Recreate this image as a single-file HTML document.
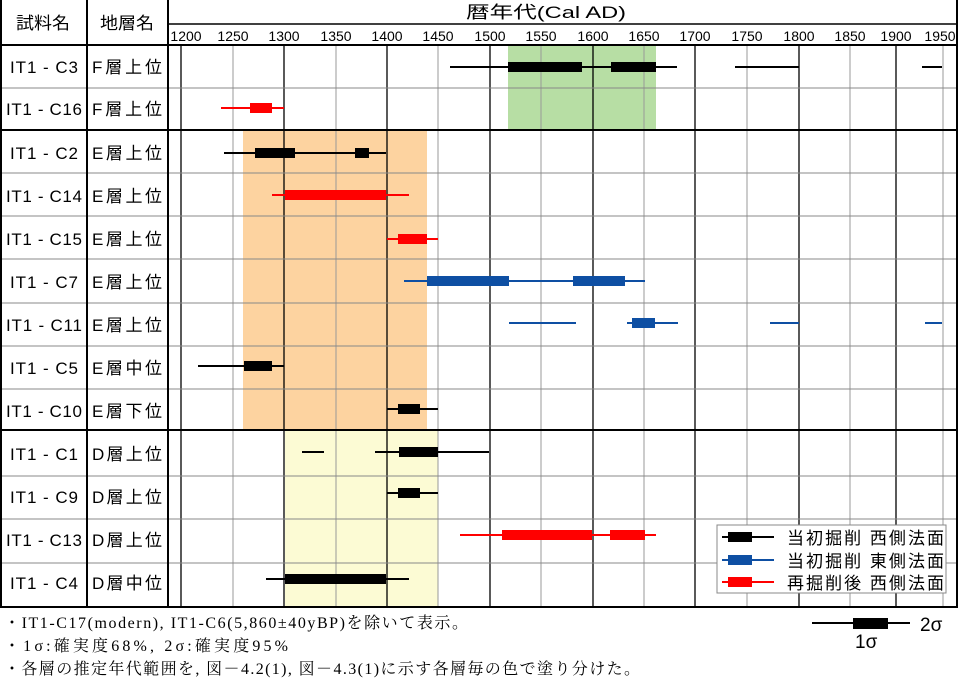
<!DOCTYPE html>
<html><head><meta charset="utf-8"><style>
html,body{margin:0;padding:0;background:#fff;}
svg{display:block;}
text{font-family:"Liberation Sans","Noto Sans CJK JP",sans-serif;fill:#000;}
</style></head><body>
<svg width="958" height="678" viewBox="0 0 958 678" xmlns="http://www.w3.org/2000/svg">
<rect x="508" y="45" width="148" height="85" fill="#b7dea4"/>
<rect x="243" y="130" width="184" height="300" fill="#fdd3a0"/>
<rect x="285" y="430" width="153" height="177" fill="#fcfbd4"/>
<g stroke="#999" stroke-width="1">
<line x1="233" y1="45" x2="233" y2="607"/>
<line x1="336" y1="45" x2="336" y2="607"/>
<line x1="438" y1="45" x2="438" y2="607"/>
<line x1="541" y1="45" x2="541" y2="607"/>
<line x1="644" y1="45" x2="644" y2="607"/>
<line x1="747" y1="45" x2="747" y2="607"/>
<line x1="850" y1="45" x2="850" y2="607"/>
<line x1="943" y1="45" x2="943" y2="607"/>
</g>
<g stroke="#000" stroke-width="1.3">
<line x1="181" y1="45" x2="181" y2="607"/>
<line x1="284" y1="45" x2="284" y2="607"/>
<line x1="387" y1="45" x2="387" y2="607"/>
<line x1="490" y1="45" x2="490" y2="607"/>
<line x1="593" y1="45" x2="593" y2="607"/>
<line x1="695" y1="45" x2="695" y2="607"/>
<line x1="799" y1="45" x2="799" y2="607"/>
<line x1="896" y1="45" x2="896" y2="607"/>
</g>
<g stroke="#888" stroke-width="1">
<line x1="0" y1="88" x2="958" y2="88"/>
<line x1="0" y1="173" x2="958" y2="173"/>
<line x1="0" y1="216" x2="958" y2="216"/>
<line x1="0" y1="259" x2="958" y2="259"/>
<line x1="0" y1="303" x2="958" y2="303"/>
<line x1="0" y1="346" x2="958" y2="346"/>
<line x1="0" y1="389" x2="958" y2="389"/>
<line x1="0" y1="476" x2="958" y2="476"/>
<line x1="0" y1="519" x2="958" y2="519"/>
<line x1="0" y1="563" x2="958" y2="563"/>
</g>
<g stroke="#000" stroke-width="2" fill="none">
<line x1="0" y1="45" x2="958" y2="45"/>
<line x1="0" y1="130" x2="958" y2="130"/>
<line x1="0" y1="430" x2="958" y2="430"/>
<line x1="0" y1="607" x2="958" y2="607"/>
<line x1="168" y1="24" x2="958" y2="24" stroke-width="1.5"/>
<line x1="1" y1="0" x2="1" y2="607"/>
<line x1="87" y1="0" x2="87" y2="607"/>
<line x1="168" y1="0" x2="168" y2="607"/>
<line x1="957" y1="0" x2="957" y2="607"/>
</g>
<text x="16" y="29" font-size="17" textLength="54" lengthAdjust="spacingAndGlyphs">試料名</text>
<text x="100" y="29" font-size="17" textLength="54" lengthAdjust="spacingAndGlyphs">地層名</text>
<text x="466" y="18" font-size="17" textLength="160" lengthAdjust="spacingAndGlyphs">暦年代(Cal AD)</text>
<g font-size="14" text-anchor="middle">
<text x="186" y="41">1200</text><text x="233" y="41">1250</text><text x="284" y="41">1300</text>
<text x="336" y="41">1350</text><text x="387" y="41">1400</text><text x="438" y="41">1450</text>
<text x="490" y="41">1500</text><text x="541" y="41">1550</text><text x="593" y="41">1600</text>
<text x="644" y="41">1650</text><text x="695" y="41">1700</text><text x="747" y="41">1750</text>
<text x="799" y="41">1800</text><text x="850" y="41">1850</text><text x="896" y="41">1900</text>
<text x="940" y="41">1950</text>
</g>
<g font-size="17" text-anchor="middle" lengthAdjust="spacingAndGlyphs">
<text x="44" y="73" textLength="68">IT1 - C3</text><text x="127" y="73" textLength="70">F層上位</text>
<text x="44" y="115" textLength="76">IT1 - C16</text><text x="127" y="115" textLength="70">F層上位</text>
<text x="44" y="159" textLength="68">IT1 - C2</text><text x="127" y="159" textLength="70">E層上位</text>
<text x="44" y="202" textLength="76">IT1 - C14</text><text x="127" y="202" textLength="70">E層上位</text>
<text x="44" y="245" textLength="76">IT1 - C15</text><text x="127" y="245" textLength="70">E層上位</text>
<text x="44" y="288" textLength="68">IT1 - C7</text><text x="127" y="288" textLength="70">E層上位</text>
<text x="44" y="331" textLength="76">IT1 - C11</text><text x="127" y="331" textLength="70">E層上位</text>
<text x="44" y="374" textLength="68">IT1 - C5</text><text x="127" y="374" textLength="70">E層中位</text>
<text x="44" y="417" textLength="76">IT1 - C10</text><text x="127" y="417" textLength="70">E層下位</text>
<text x="44" y="460" textLength="68">IT1 - C1</text><text x="127" y="460" textLength="70">D層上位</text>
<text x="44" y="503" textLength="68">IT1 - C9</text><text x="127" y="503" textLength="70">D層上位</text>
<text x="44" y="546" textLength="76">IT1 - C13</text><text x="127" y="546" textLength="70">D層上位</text>
<text x="44" y="589" textLength="68">IT1 - C4</text><text x="127" y="589" textLength="70">D層中位</text>
</g>
<g stroke="#000" stroke-width="2">
<line x1="450" y1="67" x2="677" y2="67"/><line x1="735" y1="67" x2="799" y2="67"/><line x1="922" y1="67" x2="942" y2="67"/>
<line x1="224" y1="153" x2="386" y2="153"/>
<line x1="198" y1="366" x2="284" y2="366"/>
<line x1="387" y1="409" x2="438" y2="409"/>
<line x1="302" y1="452" x2="324" y2="452"/><line x1="375" y1="452" x2="489" y2="452"/>
<line x1="387" y1="493" x2="438" y2="493"/>
<line x1="266" y1="579" x2="409" y2="579"/>
</g>
<g fill="#000">
<rect x="508" y="62" width="74" height="10"/><rect x="611" y="62" width="45" height="10"/>
<rect x="255" y="148" width="40" height="10"/><rect x="355" y="148" width="14" height="10"/>
<rect x="244" y="361" width="28" height="10"/>
<rect x="398" y="404" width="22" height="10"/>
<rect x="399" y="447" width="39" height="10"/>
<rect x="398" y="488" width="22" height="10"/>
<rect x="285" y="574" width="101" height="10"/>
</g>
<g stroke="#f00" stroke-width="2">
<line x1="221" y1="108" x2="284" y2="108"/>
<line x1="272" y1="195" x2="409" y2="195"/>
<line x1="387" y1="239" x2="438" y2="239"/>
<line x1="460" y1="535" x2="656" y2="535"/>
</g>
<g fill="#f00">
<rect x="250" y="103" width="22" height="10"/>
<rect x="285" y="190" width="101" height="10"/>
<rect x="398" y="234" width="29" height="10"/>
<rect x="502" y="530" width="90" height="10"/><rect x="610" y="530" width="35" height="10"/>
</g>
<g stroke="#0e4fa3" stroke-width="2">
<line x1="404" y1="281" x2="645" y2="281"/>
<line x1="509" y1="323" x2="576" y2="323"/><line x1="627" y1="323" x2="678" y2="323"/>
<line x1="770" y1="323" x2="799" y2="323"/><line x1="925" y1="323" x2="942" y2="323"/>
</g>
<g fill="#0e4fa3">
<rect x="427" y="276" width="82" height="10"/><rect x="573" y="276" width="52" height="10"/>
<rect x="632" y="318" width="23" height="10"/>
</g>
<rect x="717" y="525" width="229" height="68" fill="#fff" stroke="#888" stroke-width="1"/>
<line x1="722" y1="537" x2="774" y2="537" stroke="#000" stroke-width="2"/><rect x="728" y="532" width="24" height="10" fill="#000"/>
<line x1="722" y1="560" x2="774" y2="560" stroke="#0e4fa3" stroke-width="2"/><rect x="728" y="555" width="24" height="10" fill="#0e4fa3"/>
<line x1="722" y1="582" x2="774" y2="582" stroke="#f00" stroke-width="2"/><rect x="728" y="577" width="24" height="10" fill="#f00"/>
<g font-size="17" lengthAdjust="spacingAndGlyphs">
<text x="787" y="544" textLength="157">当初掘削 西側法面</text>
<text x="787" y="567" textLength="157">当初掘削 東側法面</text>
<text x="787" y="589" textLength="157">再掘削後 西側法面</text>
</g>
<g font-size="16" lengthAdjust="spacingAndGlyphs">
<text x="4" y="628" textLength="464" style="font-family:'Liberation Serif','Noto Serif CJK SC',serif">・IT1-C17(modern), IT1-C6(5,860±40yBP)を除いて表示。</text>
<text x="4" y="651" textLength="284" style="font-family:'Liberation Serif','Noto Serif CJK SC',serif">・1σ:確実度68%, 2σ:確実度95%</text>
<text x="4" y="674" textLength="636" style="font-family:'Liberation Serif','Noto Serif CJK SC',serif">・各層の推定年代範囲を, 図－4.2(1), 図－4.3(1)に示す各層毎の色で塗り分けた。</text>
</g>
<line x1="812" y1="623" x2="910" y2="623" stroke="#000" stroke-width="2"/>
<rect x="853" y="618" width="35" height="11" fill="#000"/>
<text x="920" y="631" font-size="19">2σ</text>
<text x="855" y="648" font-size="19">1σ</text>
</svg>
</body></html>
